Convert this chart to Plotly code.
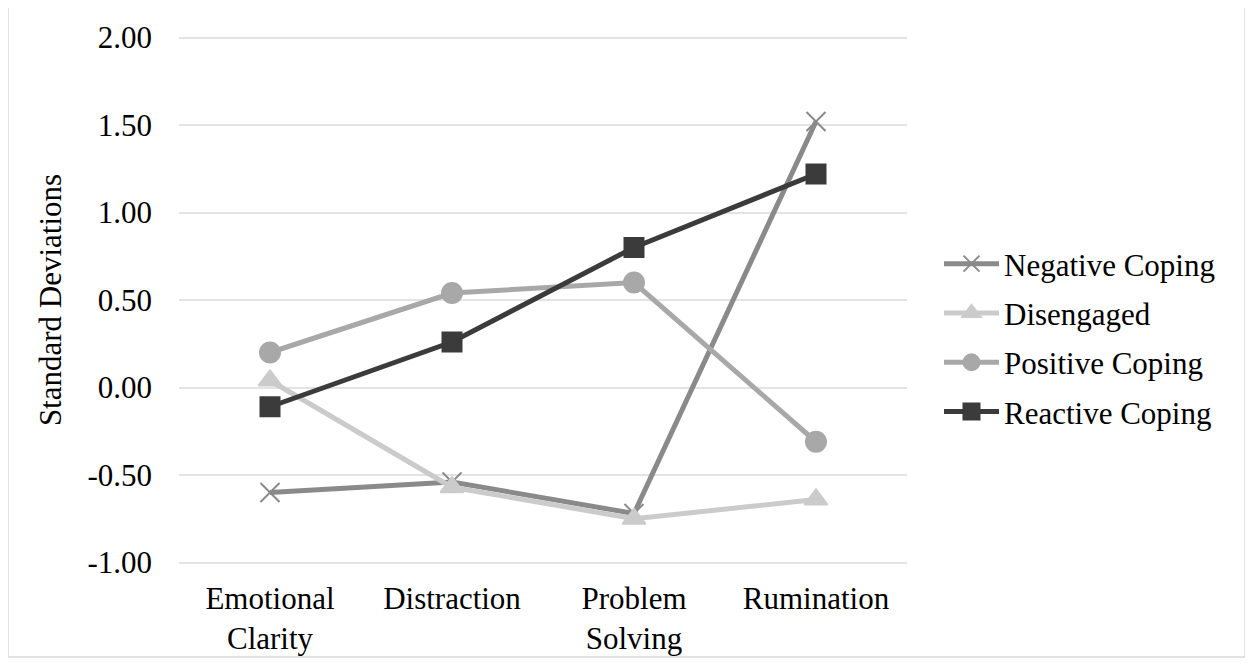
import plotly.graph_objects as go

categories = ["Emotional<br>Clarity", "Distraction", "Problem<br>Solving", "Rumination"]
negative_coping = [-0.60, -0.54, -0.72, 1.52]
disengaged = [0.04, -0.57, -0.75, -0.64]
positive_coping = [0.20, 0.54, 0.60, -0.31]
reactive_coping = [-0.11, 0.26, 0.80, 1.22]
y_ticks = [-1.0, -0.5, 0.0, 0.5, 1.0, 1.5, 2.0]
y_tick_labels = [f"{v:.2f}" for v in y_ticks]

FONT = "Liberation Serif"

fig = go.Figure()
series = [
    ("Negative Coping", negative_coping, "#8a8a8a", "x-thin", 19),
    ("Disengaged", disengaged, "#cbcbcb", "triangle-up", 20),
    ("Positive Coping", positive_coping, "#a8a8a8", "circle", 20),
    ("Reactive Coping", reactive_coping, "#3b3b3b", "square", 19),
]
for name, vals, color, sym, size in series:
    fig.add_trace(go.Scatter(
        x=list(range(len(categories))), y=vals, name=name, mode="lines+markers",
        legendgroup=name,
        line=dict(color=color, width=5),
        marker=dict(symbol=sym, size=size, color=color,
                    line=dict(color=color, width=2)),
    ))

# page offset of 8px (body margin) compensated
OFF = 8
W, H = 1253 - 2 * OFF, 667 - 2 * OFF
PAD = 0.02            # y-range padding so the edge gridlines are drawn
UNIT = 175.0          # pixels per y unit
Y0, Y1 = -1.0 - PAD, 2.0 + PAD
ph = int(round((Y1 - Y0) * UNIT))
pw = 728
L = 179 - OFF
T = int(round(38 - PAD * UNIT)) - OFF
R = W - L - pw
B = H - T - ph

fig.update_layout(
    width=W, height=H,
    margin=dict(l=L, r=R, t=T, b=B, autoexpand=False),
    paper_bgcolor="white", plot_bgcolor="white",
    font=dict(family=FONT, size=31, color="#000000"),
    showlegend=True,
    legend=dict(xref="container", yref="container",
                x=(939 - OFF) / W, y=1 - (338 - OFF) / H,
                xanchor="left", yanchor="middle",
                font=dict(family=FONT, size=31), tracegroupgap=6,
                itemwidth=55, bgcolor="rgba(0,0,0,0)"),
    xaxis=dict(
        tickmode="array", tickvals=list(range(len(categories))), ticktext=categories,
        range=[-0.5, 3.5], showgrid=False, zeroline=False, showline=False,
        tickfont=dict(family=FONT, size=31), ticks="", ticklabelstandoff=11,
        automargin=False,
    ),
    yaxis=dict(
        range=[Y0, Y1], tickmode="array", tickvals=y_ticks, ticktext=y_tick_labels,
        showgrid=True, gridcolor="#e3e3e3", gridwidth=2, zeroline=False,
        showline=False, ticks="", ticklabelstandoff=26, automargin=False,
        tickfont=dict(family=FONT, size=31),
        title=dict(text="Standard Deviations", font=dict(family=FONT, size=31), standoff=16),
    ),
    shapes=[dict(
        type="rect", xref="paper", yref="paper",
        x0=(8 - OFF - L) / pw, x1=(1245 - OFF - L) / pw,
        y0=(H - B - (657 - OFF)) / ph, y1=(H - B - (7 - OFF)) / ph,
        line=dict(color="#d9d9d9", width=1.5), fillcolor="rgba(0,0,0,0)", layer="below",
    )],
)

fig.write_html("out.html")
